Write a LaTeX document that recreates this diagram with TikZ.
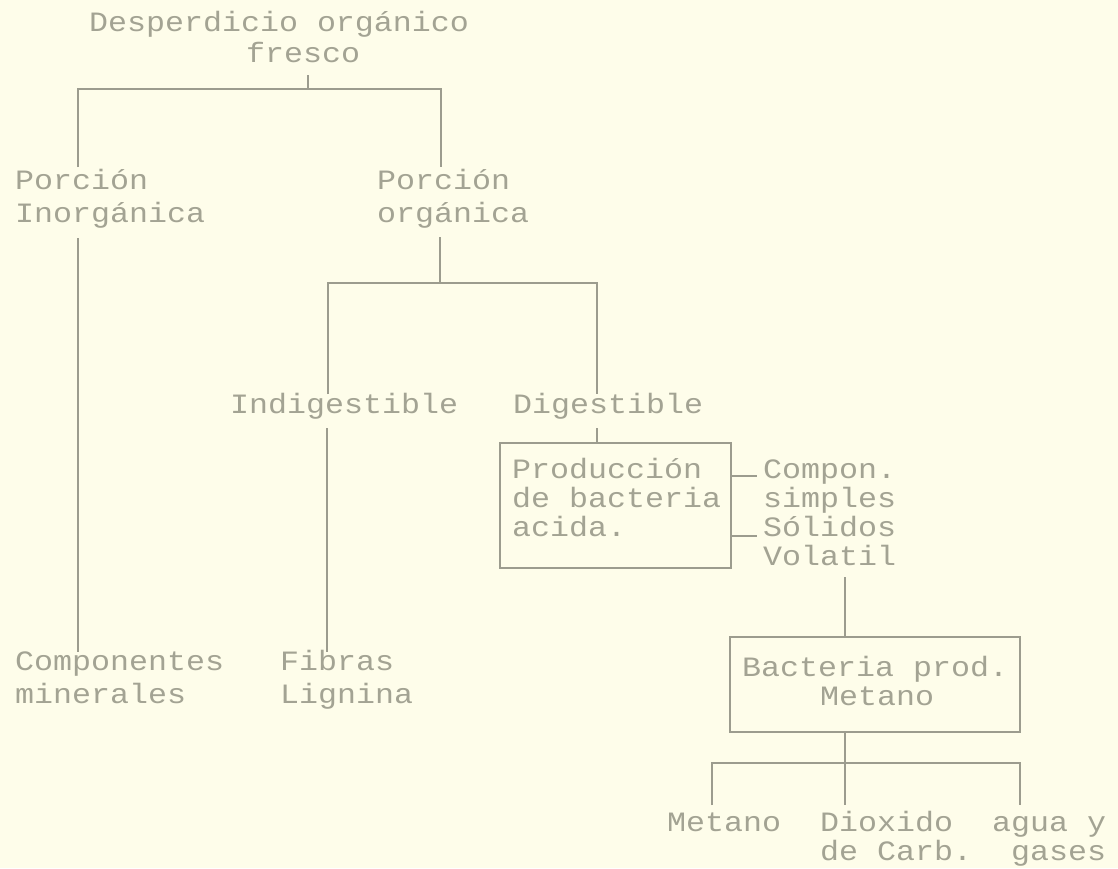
\documentclass[tikz,border=0pt]{standalone}
\usepackage{fontspec}
\newfontfamily\dotmx[FakeStretch=1.13]{Liberation Mono}
\definecolor{paper}{HTML}{FEFDEA}
\definecolor{inkc}{HTML}{A3A393}
\definecolor{linec}{HTML}{9C9C8E}
\tikzset{
  txt/.style={font=\dotmx\fontsize{28}{29}\selectfont, text=inkc, inner sep=0pt, anchor=base west},
  ln/.style={draw=linec, line width=1.2pt},
  boxc/.style={draw=linec, line width=1.2pt, rectangle, inner sep=0pt}
}
\begin{document}
\begin{tikzpicture}[x=1pt,y=-1pt]
\fill[paper] (0,0) rectangle (1118,868);
\useasboundingbox (0,0) rectangle (1118,868);

% texts
\node[txt] (title1) at (89,31) {Desperdicio orgánico};
\node[txt] (title2) at (246,62) {fresco};
\node[txt] (pin1) at (15,189) {Porción};
\node[txt] (pin2) at (15,222) {Inorgánica};
\node[txt] (por1) at (377,189) {Porción};
\node[txt] (por2) at (377,222) {orgánica};
\node[txt] (indig) at (230,413) {Indigestible};
\node[txt] (dig) at (513,413) {Digestible};
\node[boxc, minimum width=231pt, minimum height=125pt] (box1) at (615.5,505.5) {};
\node[txt] (prod1) at (512,478) {Producción};
\node[txt] (prod2) at (512,507) {de bacteria};
\node[txt] (prod3) at (512,536) {acida.};
\node[txt] (comp1) at (763,478) {Compon.};
\node[txt] (simp) at (763,507) {simples};
\node[txt] (sol) at (763,536) {Sólidos};
\node[txt] (vol) at (763,565) {Volatil};
\node[boxc, minimum width=290pt, minimum height=95pt] (box2) at (875,684.5) {};
\node[txt] (bac1) at (742,676) {Bacteria prod.};
\node[txt] (bac2) at (820,705) {Metano};
\node[txt] (cm1) at (15,670) {Componentes};
\node[txt] (cm2) at (15,703) {minerales};
\node[txt] (fib1) at (280,670) {Fibras};
\node[txt] (fib2) at (280,703) {Lignina};
\node[txt] (met) at (667,831) {Metano};
\node[txt] (diox1) at (820,831) {Dioxido};
\node[txt] (diox2) at (820,860) {de Carb.};
\node[txt] (agua1) at (992,831) {agua y};
\node[txt] (agua2) at (1011,860) {gases};

% junction coordinates
\coordinate (a0) at (308,75);
\coordinate (a1) at (308,89);
\coordinate (aL) at (78,89);
\coordinate (aR) at (441,89);
\coordinate (aLb) at (78,167);
\coordinate (aRb) at (441,167);
\coordinate (b0) at (78,238);
\coordinate (b1) at (78,652);
\coordinate (c0) at (440,237);
\coordinate (c1) at (440,283);
\coordinate (cL) at (328,283);
\coordinate (cR) at (597,283);
\coordinate (cLb) at (328,394);
\coordinate (cRb) at (597,394);
\coordinate (d0) at (327,428);
\coordinate (d1) at (327,652);
\coordinate (e0) at (597,428);
\coordinate (f1) at (757,476);
\coordinate (f2) at (757,536);
\coordinate (g0) at (845,577);
\coordinate (h1) at (845,763);
\coordinate (hL) at (712,763);
\coordinate (hR) at (1020,763);
\coordinate (hLb) at (712,805);
\coordinate (hMb) at (845,805);
\coordinate (hRb) at (1020,805);

% connectors
\draw[ln] (a0) -- (a1);
\draw[ln] (aLb) -- (aL) -- (aR) -- (aRb);
\draw[ln] (b0) -- (b1);
\draw[ln] (c0) -- (c1);
\draw[ln] (cLb) -- (cL) -- (cR) -- (cRb);
\draw[ln] (d0) -- (d1);
\draw[ln] (e0) -- (e0 |- box1.north);
\draw[ln] (box1.east |- f1) -- (f1);
\draw[ln] (box1.east |- f2) -- (f2);
\draw[ln] (g0) -- (g0 |- box2.north);
\draw[ln] (box2.south -| h1) -- (h1);
\draw[ln] (hLb) -- (hL) -- (hR) -- (hRb);
\draw[ln] (h1) -- (hMb);
\end{tikzpicture}
\end{document}
